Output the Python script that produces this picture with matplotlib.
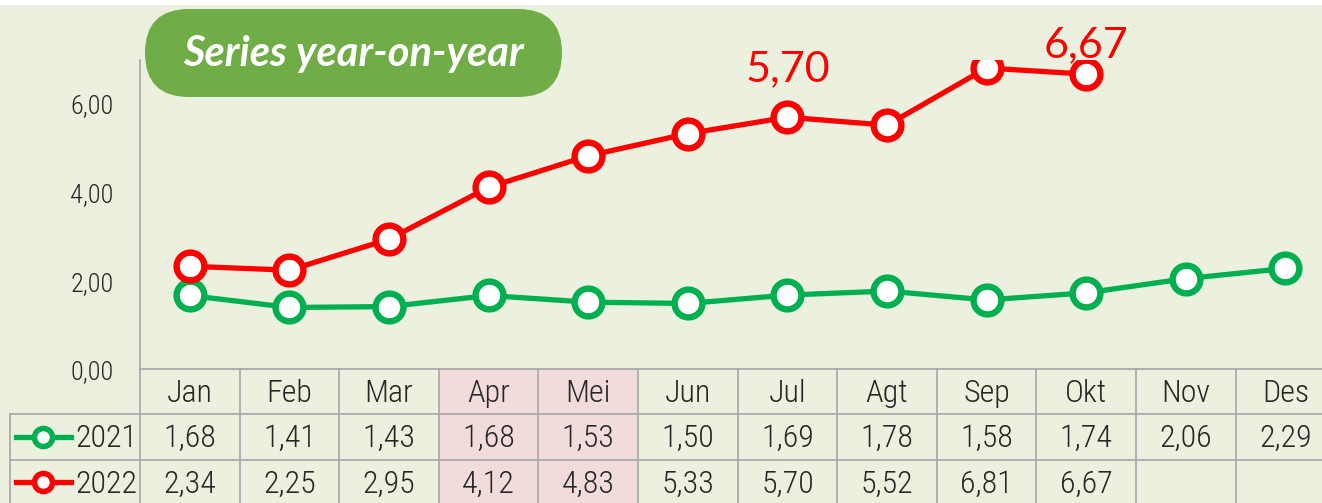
import matplotlib.pyplot as plt
from matplotlib.patches import FancyBboxPatch, Rectangle

# data
months = ["Jan", "Feb", "Mar", "Apr", "Mei", "Jun", "Jul", "Agt", "Sep", "Okt", "Nov", "Des"]
y2021 = [1.68, 1.41, 1.43, 1.68, 1.53, 1.50, 1.69, 1.78, 1.58, 1.74, 2.06, 2.29]
y2022 = [2.34, 2.25, 2.95, 4.12, 4.83, 5.33, 5.70, 5.52, 6.81, 6.67]
highlight = ["Apr", "Mei"]
labelled = {"Jul": 26, "Okt": 12}   # month -> label offset (pt)
yticks = [0, 2, 4, 6]

BG = "#EBF1DE"
GREEN = "#00B050"
RED = "#FF0000"
BOX = "#70AD47"
GRID = "#A6A6A6"
PINK = "#F2DCDB"
TXT = "#262626"
NARROW = ["Roboto Condensed", "Roboto", "DejaVu Sans"]
NW = "light"

W, H = 1322, 503
COL = 99.6
fig = plt.figure(figsize=(W / 100, H / 100), dpi=100)
fig.patch.set_facecolor("white")

# pixel-space backdrop axes (for background and title pill)
bg = fig.add_axes([0, 0, 1, 1], zorder=-5)
bg.set_xlim(0, W)
bg.set_ylim(H, 0)
bg.axis("off")
bg.add_patch(Rectangle((0, 5), W, H, facecolor=BG, edgecolor="none"))


def px_box(left, top, right, bottom):
    return [left / W, 1 - bottom / H, (right - left) / W, (bottom - top) / H]


x_right = 140 + 12 * COL
ax = fig.add_axes(px_box(140, 370 - 7 * 44.35, x_right, 370))
tab = fig.add_axes(px_box(140, 369, x_right, 505))
for a in (ax, tab):
    a.set_facecolor("none")

# ---- chart ----
x = list(range(len(months)))
ax.plot(x, y2021, color=GREEN, lw=3.8, marker="o", ms=20, mfc="white",
        mec=GREEN, mew=4.6, zorder=3)
ax.plot(x[:len(y2022)], y2022, color=RED, lw=3.8, marker="o", ms=20,
        mfc="white", mec=RED, mew=4.6, zorder=4)
for m, off in labelled.items():
    i = months.index(m)
    ax.annotate(f"{y2022[i]:.2f}".replace(".", ","), (i, y2022[i]),
                xytext=(0, off), textcoords="offset points", ha="center",
                va="baseline", color=RED, fontsize=31, family="Lato")

ax.set_xlim(-0.5, len(months) - 0.5)
ax.set_ylim(0, 7)
ax.set_xticks([])
ax.set_yticks(yticks)
ax.set_yticklabels([f"{v:.2f}".replace(".", ",") for v in yticks],
                   family=NARROW, fontweight=NW, fontsize=19, color=TXT)
ax.tick_params(axis="y", length=0, pad=19)
for s in ("top", "right", "bottom"):
    ax.spines[s].set_visible(False)
ax.spines["left"].set_color(GRID)
ax.spines["left"].set_linewidth(1.2)

# ---- data table ----
def dx(px):
    return -0.5 + (px - 140) / COL

tab.set_xlim(-0.5, len(months) - 0.5)
tab.set_ylim(3, 0)
tab.axis("off")
for m in highlight:
    i = months.index(m)
    tab.add_patch(Rectangle((i - 0.5, 0), 1, 3, facecolor=PINK, edgecolor="none"))
lw = 1.2
tab.plot([-0.5, len(months) - 0.5], [0, 0], color=GRID, lw=lw, clip_on=False)
for r in (1, 2, 3):
    tab.plot([dx(10), len(months) - 0.5], [r, r], color=GRID, lw=lw, clip_on=False)
for k in range(len(months) + 1):
    tab.plot([k - 0.5, k - 0.5], [0, 3], color=GRID, lw=lw, clip_on=False)
tab.plot([dx(10), dx(10)], [1, 3], color=GRID, lw=lw, clip_on=False)

for i, m in enumerate(months):
    tab.text(i, 0.54, m, ha="center", va="center", family=NARROW,
             fontweight=NW, fontsize=23, color=TXT)
rows = [("2021", y2021, GREEN), ("2022", y2022, RED)]
for r, (name, vals, c) in enumerate(rows, start=1):
    yc = r + 0.5
    tab.plot([dx(16), dx(71)], [yc, yc], color=c, lw=3.8, clip_on=False)
    tab.plot([dx(43)], [yc], marker="o", ms=13, mfc="white", mec=c, mew=4,
             clip_on=False)
    tab.text(dx(75), yc + 0.04, name, ha="left", va="center", family=NARROW,
             fontweight=NW, fontsize=23, color=TXT)
    for i, v in enumerate(vals):
        tab.text(i, yc + 0.04, f"{v:.2f}".replace(".", ","), ha="center",
                 va="center", family=NARROW, fontweight=NW, fontsize=23,
                 color=TXT)

# ---- title pill ----
bg.add_patch(FancyBboxPatch((145, 9), 562 - 145, 88,
                            boxstyle="round,pad=0,rounding_size=44",
                            facecolor=BOX, edgecolor="none"))
bg.text(353, 54, "Series year-on-year", ha="center", va="center",
        color="white", fontsize=30, fontweight="bold", fontstyle="italic",
        family="Lato")

fig.savefig("out.png", dpi=100, facecolor=fig.get_facecolor())
